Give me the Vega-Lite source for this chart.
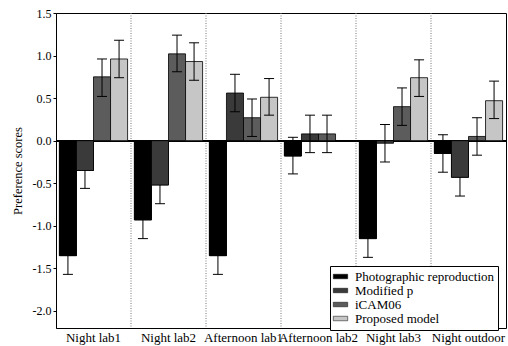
{
  "$schema": "https://vega.github.io/schema/vega-lite/v6.json",
  "width": 450,
  "height": 315,
  "autosize": {"type": "none"},
  "padding": {"left": 56, "top": 13, "right": 2, "bottom": 18},
  "background": "white",
  "data": {
    "values": [
      {"group": "Night lab1", "model": "Photographic reproduction", "value": -1.35, "lo": -1.57, "hi": -1.13},
      {"group": "Night lab1", "model": "Modified p", "value": -0.35, "lo": -0.56, "hi": -0.14},
      {"group": "Night lab1", "model": "iCAM06", "value": 0.75, "lo": 0.52, "hi": 0.96},
      {"group": "Night lab1", "model": "Proposed model", "value": 0.96, "lo": 0.74, "hi": 1.18},
      {"group": "Night lab2", "model": "Photographic reproduction", "value": -0.93, "lo": -1.15, "hi": -0.71},
      {"group": "Night lab2", "model": "Modified p", "value": -0.52, "lo": -0.74, "hi": -0.30},
      {"group": "Night lab2", "model": "iCAM06", "value": 1.02, "lo": 0.81, "hi": 1.24},
      {"group": "Night lab2", "model": "Proposed model", "value": 0.93, "lo": 0.71, "hi": 1.15},
      {"group": "Afternoon lab1", "model": "Photographic reproduction", "value": -1.35, "lo": -1.57, "hi": -1.13},
      {"group": "Afternoon lab1", "model": "Modified p", "value": 0.56, "lo": 0.34, "hi": 0.78},
      {"group": "Afternoon lab1", "model": "iCAM06", "value": 0.27, "lo": 0.05, "hi": 0.49},
      {"group": "Afternoon lab1", "model": "Proposed model", "value": 0.51, "lo": 0.30, "hi": 0.73},
      {"group": "Afternoon lab2", "model": "Photographic reproduction", "value": -0.18, "lo": -0.39, "hi": 0.04},
      {"group": "Afternoon lab2", "model": "Modified p", "value": 0.08, "lo": -0.14, "hi": 0.30},
      {"group": "Afternoon lab2", "model": "iCAM06", "value": 0.08, "lo": -0.14, "hi": 0.30},
      {"group": "Afternoon lab2", "model": "Proposed model", "value": 0.0, "lo": null, "hi": null},
      {"group": "Night lab3", "model": "Photographic reproduction", "value": -1.15, "lo": -1.37, "hi": -0.93},
      {"group": "Night lab3", "model": "Modified p", "value": -0.03, "lo": -0.25, "hi": 0.19},
      {"group": "Night lab3", "model": "iCAM06", "value": 0.40, "lo": 0.18, "hi": 0.62},
      {"group": "Night lab3", "model": "Proposed model", "value": 0.74, "lo": 0.52, "hi": 0.95},
      {"group": "Night outdoor", "model": "Photographic reproduction", "value": -0.15, "lo": -0.37, "hi": 0.07},
      {"group": "Night outdoor", "model": "Modified p", "value": -0.43, "lo": -0.65, "hi": -0.21},
      {"group": "Night outdoor", "model": "iCAM06", "value": 0.05, "lo": -0.17, "hi": 0.27},
      {"group": "Night outdoor", "model": "Proposed model", "value": 0.47, "lo": 0.26, "hi": 0.70}
    ]
  },
  "encoding": {
    "x": {
      "field": "group",
      "type": "nominal",
      "sort": ["Night lab1", "Night lab2", "Afternoon lab1", "Afternoon lab2", "Night lab3", "Night outdoor"],
      "scale": {"paddingInner": 0, "paddingOuter": 0},
      "axis": {"title": null, "labelAngle": 0, "ticks": false, "domain": false, "labelPadding": 3, "labelFontSize": 13, "labelFont": "Liberation Serif", "labelColor": "black"}
    }
  },
  "layer": [
    {
      "transform": [{"filter": "datum.model === 'Photographic reproduction' && datum.group !== 'Night lab1'"}],
      "mark": {"type": "rule", "color": "#777", "strokeDash": [1, 1.5], "strokeWidth": 1},
      "encoding": {
        "x": {"field": "group", "type": "nominal", "bandPosition": 0,
          "sort": ["Night lab1", "Night lab2", "Afternoon lab1", "Afternoon lab2", "Night lab3", "Night outdoor"]}
      }
    },
    {
      "mark": {"type": "rule", "color": "black", "strokeWidth": 1},
      "encoding": {"x": null, "y": {"datum": 0, "type": "quantitative"}}
    },
    {
      "mark": {"type": "bar", "stroke": "black", "strokeWidth": 0.8},
      "encoding": {
        "xOffset": {"field": "model", "type": "nominal", "sort": ["Photographic reproduction", "Modified p", "iCAM06", "Proposed model"], "scale": {"paddingInner": 0, "paddingOuter": 0.2}},
        "y": {
          "field": "value", "type": "quantitative",
          "scale": {"domain": [-2.2, 1.5], "nice": false, "zero": false},
          "axis": {
            "title": "Preference scores", "values": [-2, -1.5, -1, -0.5, 0, 0.5, 1, 1.5],
            "labelExpr": "replace(format(datum.value, '.1f'), '\u2212', '-')",
            "grid": false, "tickSize": 3, "tickColor": "black", "domainColor": "black",
            "labelFont": "Liberation Serif", "labelFontSize": 12, "labelColor": "black",
            "titleFont": "Liberation Serif", "titleFontSize": 12.5, "titleFontWeight": "normal", "titleColor": "black", "titlePadding": 8
          }
        },
        "color": {
          "field": "model", "type": "nominal",
          "sort": ["Photographic reproduction", "Modified p", "iCAM06", "Proposed model"],
          "scale": {"domain": ["Photographic reproduction", "Modified p", "iCAM06", "Proposed model"], "range": ["#000000", "#3a3a3a", "#5c5c5c", "#c6c6c6"]},
          "legend": {
            "title": null, "orient": "none", "legendX": 274, "legendY": 253,
            "padding": 4, "strokeColor": "black", "fillColor": "white",
            "symbolType": "M-1.6,-0.5H1.6V0.5H-1.6Z", "symbolSize": 81,
            "symbolStrokeColor": "black", "symbolStrokeWidth": 0.5, "symbolOpacity": 1,
            "labelFont": "Liberation Serif", "labelFontSize": 13, "labelColor": "black",
            "rowPadding": 0, "labelOffset": 8
          }
        }
      }
    },
    {
      "mark": {"type": "rule", "color": "black", "strokeWidth": 1},
      "encoding": {
        "xOffset": {"field": "model", "type": "nominal", "sort": ["Photographic reproduction", "Modified p", "iCAM06", "Proposed model"]},
        "y": {"field": "lo", "type": "quantitative"},
        "y2": {"field": "hi"}
      }
    },
    {
      "mark": {"type": "tick", "color": "black", "thickness": 1, "size": 10, "opacity": 1},
      "encoding": {
        "xOffset": {"field": "model", "type": "nominal", "sort": ["Photographic reproduction", "Modified p", "iCAM06", "Proposed model"]},
        "y": {"field": "lo", "type": "quantitative"}
      }
    },
    {
      "mark": {"type": "tick", "color": "black", "thickness": 1, "size": 10, "opacity": 1},
      "encoding": {
        "xOffset": {"field": "model", "type": "nominal", "sort": ["Photographic reproduction", "Modified p", "iCAM06", "Proposed model"]},
        "y": {"field": "hi", "type": "quantitative"}
      }
    },
    {
      "transform": [{"filter": "datum.value < -0.05"}],
      "mark": {"type": "bar", "stroke": "black", "strokeWidth": 0.8},
      "encoding": {
        "xOffset": {"field": "model", "type": "nominal", "sort": ["Photographic reproduction", "Modified p", "iCAM06", "Proposed model"]},
        "y": {"field": "value", "type": "quantitative"},
        "y2": {"datum": 0},
        "color": {"field": "model", "type": "nominal", "legend": null}
      }
    }
  ],
  "config": {
    "view": {"stroke": "black", "strokeWidth": 1},
    "font": "Liberation Serif"
  }
}
